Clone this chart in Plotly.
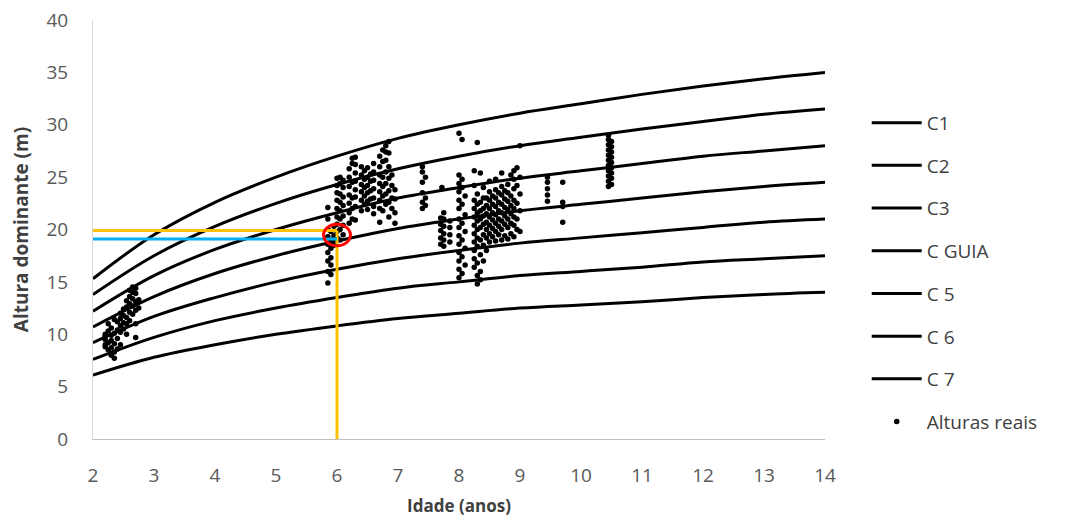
import plotly.graph_objects as go

# ---------------- data ----------------
ages = [2, 3, 4, 5, 6, 7, 8, 9, 10, 11, 12, 13, 14]

c1 = [15.3, 19.5, 22.6, 25.0, 27.0, 28.7, 30.0, 31.1, 32.0, 32.9, 33.7, 34.4, 35.0]
c2 = [13.8, 17.5, 20.3, 22.5, 24.3, 25.8, 27.0, 28.0, 28.8, 29.6, 30.3, 31.0, 31.5]
c3 = [12.2, 15.6, 18.1, 20.0, 21.6, 23.0, 24.0, 24.9, 25.6, 26.3, 27.0, 27.5, 28.0]
c_guia = [10.7, 13.6, 15.8, 17.5, 18.9, 20.1, 21.0, 21.8, 22.4, 23.0, 23.6, 24.1, 24.5]
c5 = [9.2, 11.7, 13.5, 15.0, 16.2, 17.2, 18.0, 18.7, 19.2, 19.7, 20.2, 20.7, 21.0]
c6 = [7.6, 9.7, 11.3, 12.5, 13.5, 14.4, 15.0, 15.6, 16.0, 16.4, 16.9, 17.2, 17.5]
c7 = [6.1, 7.8, 9.0, 10.0, 10.8, 11.5, 12.0, 12.5, 12.8, 13.1, 13.5, 13.8, 14.0]

curve_names = ["C1", "C2", "C3", "C GUIA", "C 5", "C 6", "C 7"]
curve_values = [c1, c2, c3, c_guia, c5, c6, c7]

# observed heights ("Alturas reais"), grouped by age
obs_groups = [
    (2.2, [9.0, 9.5, 10.0, 8.8, 9.8]),
    (2.25, [8.5, 9.2, 10.3, 11.0]),
    (2.3, [8.0, 8.7, 9.4, 9.9, 10.6]),
    (2.35, [7.7, 8.3, 9.1, 10.1, 11.4]),
    (2.4, [8.6, 9.6, 10.4, 11.2]),
    (2.45, [9.0, 10.2, 10.8, 11.5, 12.0]),
    (2.5, [10.5, 11.1, 11.8, 12.4]),
    (2.55, [10.0, 11.0, 11.6, 12.6, 13.2]),
    (2.6, [11.3, 12.1, 12.9, 13.6, 14.2]),
    (2.65, [11.9, 12.7, 13.4, 14.0, 14.5]),
    (2.7, [9.7, 11.0, 12.3, 13.1, 13.9, 14.4]),
    (2.75, [12.5, 13.3]),
    (5.85, [14.9, 16.0, 17.0, 17.8, 18.6, 19.3, 20.0, 21.0, 22.1]),
    (5.9, [15.7, 16.6, 17.3, 18.2, 19.0, 19.8]),
    (5.95, [18.5, 19.4, 20.3]),
    (6.0, [19.2, 19.8, 20.5, 21.2, 22.0, 22.8, 23.5, 24.2, 24.9]),
    (6.05, [19.0, 20.0, 21.0, 21.8, 22.6, 23.4, 24.4, 25.0]),
    (6.1, [19.5, 20.4, 21.3, 22.3, 23.1, 24.0, 24.7]),
    (6.2, [20.6, 21.6, 22.5, 23.3, 24.1, 25.0, 25.8]),
    (6.25, [21.0, 22.0, 23.0, 24.5, 26.3, 26.8]),
    (6.3, [20.9, 22.2, 23.1, 23.8, 24.6, 25.4, 26.2, 26.9]),
    (6.4, [21.8, 22.8, 23.6, 24.3, 25.2, 26.0]),
    (6.45, [22.4, 23.2, 24.0, 24.8, 25.6]),
    (6.5, [21.9, 22.7, 23.5, 24.2, 25.0, 25.9]),
    (6.55, [22.9, 23.7, 24.6, 25.3]),
    (6.6, [21.5, 22.2, 23.0, 23.9, 24.7, 25.5, 26.3]),
    (6.7, [20.7, 22.0, 22.8, 23.6, 24.4, 25.2, 26.0, 27.0]),
    (6.75, [21.8, 23.2, 24.1, 25.0, 26.5, 27.6]),
    (6.8, [22.4, 23.4, 24.4, 25.5, 26.6, 27.4, 28.0]),
    (6.85, [21.2, 22.6, 23.7, 24.9, 26.0, 27.3, 28.4]),
    (6.9, [22.0, 23.0, 24.2, 25.2]),
    (6.95, [20.6, 21.6, 22.9, 23.8]),
    (7.4, [22.0, 22.6, 23.5, 24.5, 25.5, 26.0]),
    (7.45, [22.3, 23.0, 25.0]),
    (7.7, [18.6, 19.2, 19.9, 20.5, 21.1]),
    (7.72, [24.0]),
    (7.75, [18.4, 19.0, 19.6, 20.3, 21.0, 21.6]),
    (7.85, [18.8, 19.5, 20.2, 20.8]),
    (8.0, [15.4, 16.2, 17.0, 17.8, 18.6, 19.4, 20.2, 21.0, 22.0, 22.8, 23.6, 24.4, 25.2, 29.2]),
    (8.05, [15.8, 17.4, 19.0, 20.6, 22.4, 24.0, 24.8, 28.6]),
    (8.1, [16.6, 18.2, 19.8, 21.4, 23.2]),
    (8.25, [16.4, 17.2, 18.0, 18.8, 19.6, 20.4, 21.2, 22.0, 22.8, 24.2, 25.6]),
    (8.3, [14.8, 15.6, 16.8, 18.4, 19.2, 20.0, 20.8, 21.6, 22.4, 23.4, 28.3]),
    (8.35, [15.2, 16.0, 17.6, 19.0, 20.2, 21.0, 21.8, 22.6, 25.4]),
    (8.4, [17.0, 18.5, 19.5, 20.5, 21.3, 22.0, 23.0, 24.0]),
    (8.45, [18.0, 19.2, 20.0, 20.7, 21.5, 22.3, 23.0]),
    (8.5, [18.8, 19.6, 20.4, 21.2, 22.0, 22.8, 23.6, 24.6]),
    (8.55, [19.3, 20.1, 20.9, 21.6, 22.4, 23.2]),
    (8.6, [18.9, 19.8, 20.6, 21.4, 22.2, 23.0, 23.8, 24.8]),
    (8.65, [19.5, 20.3, 21.0, 21.8, 22.6, 23.5]),
    (8.7, [19.0, 20.0, 20.8, 21.6, 22.4, 23.3, 24.1, 25.4]),
    (8.75, [19.4, 20.5, 21.3, 22.1, 22.9, 23.7]),
    (8.8, [19.1, 20.2, 21.0, 21.9, 22.7, 23.5, 24.3]),
    (8.85, [19.6, 20.6, 21.5, 22.3, 23.2, 25.2]),
    (8.9, [19.3, 20.4, 21.2, 22.0, 22.8, 23.9, 24.8, 25.6]),
    (8.95, [20.0, 21.0, 22.5, 24.2, 25.9]),
    (9.0, [19.8, 21.8, 23.4, 25.0, 28.0]),
    (9.45, [22.7, 23.3, 23.9, 24.5, 25.0]),
    (9.7, [20.7, 22.2, 22.6, 24.5]),
    (10.45, [24.1, 24.6, 25.1, 25.6, 26.1, 26.6, 27.1, 27.6, 28.1, 28.6, 29.0]),
    (10.5, [24.3, 24.9, 25.4, 25.9, 26.4, 26.9, 27.4, 27.9, 28.4]),
]

# reading guides drawn on the chart
ref_age = 6.0
ref_height_yellow = 19.9
ref_height_blue = 19.1

# ---------------- figure ----------------
obs_age = [a for a, hs in obs_groups for _ in hs]
obs_height = [h for _, hs in obs_groups for h in hs]

fig = go.Figure()
for name, vals in zip(curve_names, curve_values):
    fig.add_trace(go.Scatter(
        x=ages, y=vals, mode="lines", name=name, legendgroup=name,
        line=dict(color="black", width=3, shape="spline", smoothing=1.0),
    ))
fig.add_trace(go.Scatter(
    x=obs_age, y=obs_height, mode="markers", name="Alturas reais",
    legendgroup="obs",
    marker=dict(color="black", size=5.5),
))

# yellow & blue reading lines, red circle
fig.add_shape(type="line", x0=2, x1=ref_age, y0=ref_height_yellow, y1=ref_height_yellow,
              line=dict(color="#FFC000", width=3), layer="above")
fig.add_shape(type="line", x0=ref_age, x1=ref_age, y0=0, y1=ref_height_yellow,
              line=dict(color="#FFC000", width=3), layer="above")
fig.add_shape(type="line", x0=2, x1=ref_age, y0=ref_height_blue, y1=ref_height_blue,
              line=dict(color="#00B0F0", width=3), layer="above")
fig.add_shape(type="circle", x0=ref_age - 0.22, x1=ref_age + 0.22,
              y0=ref_height_blue - 0.65, y1=ref_height_yellow + 0.6,
              line=dict(color="#FF0000", width=3), layer="above")

# the page adds an 8px body margin, so the figure is 8px smaller and shifted
fig.update_layout(
    width=1060, height=511, autosize=False,
    margin=dict(l=85, r=243, t=12, b=80),
    paper_bgcolor="white", plot_bgcolor="white",
    font=dict(family="Open Sans, Liberation Sans, sans-serif", color="#404040"),
    showlegend=True,
    legend=dict(
        x=1.057, xanchor="left", y=0.80, yanchor="top",
        font=dict(size=19, color="#404040"),
        tracegroupgap=15, itemwidth=50,
        bgcolor="rgba(0,0,0,0)",
    ),
    xaxis=dict(
        range=[2, 14], dtick=1, tick0=2,
        showgrid=False, zeroline=False, automargin=False,
        showline=True, linecolor="#BFBFBF", linewidth=1,
        ticks="", tickfont=dict(size=19, color="#595959"),
        ticklabelstandoff=19, ticklabeloverflow="allow",
        title=dict(text="<b>Idade (anos)</b>", font=dict(size=17, color="#404040"), standoff=13),
    ),
    yaxis=dict(
        range=[0, 40], dtick=5,
        showgrid=False, zeroline=False, automargin=False,
        showline=True, linecolor="#D9D9D9", linewidth=1,
        ticks="", tickfont=dict(size=19, color="#595959"),
        ticklabelstandoff=20, ticklabeloverflow="allow",
        title=dict(text="<b>Altura dominante (m)</b>", font=dict(size=19, color="#404040"), standoff=14),
    ),
)

fig.write_html("out.html")
